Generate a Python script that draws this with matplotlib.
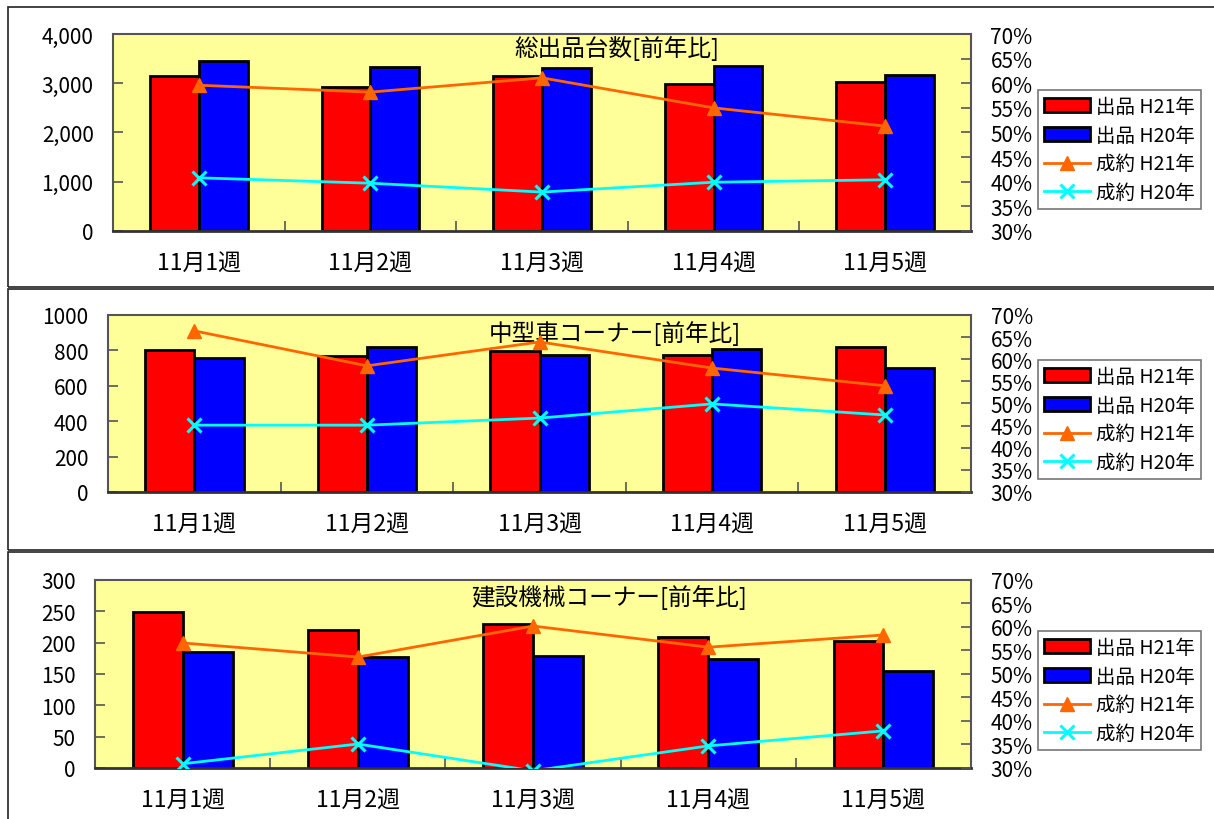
import numpy as np
import matplotlib
matplotlib.use('Agg')
import matplotlib.pyplot as plt
from matplotlib.patches import Rectangle, Patch
from matplotlib.lines import Line2D
from matplotlib.ticker import FuncFormatter, MultipleLocator

plt.rcParams['font.family'] = ['Noto Sans CJK JP', 'DejaVu Sans']

weeks = ['11月1週', '11月2週', '11月3週', '11月4週', '11月5週']

# 総出品台数
total_h21 = [3150, 2925, 3150, 2985, 3025]
total_h20 = [3450, 3330, 3310, 3350, 3170]
total_rate_h21 = [59.6, 58.2, 61.1, 55.0, 51.3]
total_rate_h20 = [40.8, 39.7, 37.9, 39.9, 40.4]

# 中型車コーナー
mid_h21 = [800, 768, 797, 774, 819]
mid_h20 = [757, 819, 774, 808, 701]
mid_rate_h21 = [66.4, 58.5, 63.9, 58.0, 54.0]
mid_rate_h20 = [45.1, 45.1, 46.7, 49.9, 47.4]

# 建設機械コーナー
con_h21 = [249, 220, 230, 209, 203]
con_h20 = [185, 177, 179, 174, 155]
con_rate_h21 = [56.6, 53.6, 60.2, 55.7, 58.3]
con_rate_h20 = [30.9, 35.1, 29.4, 34.7, 37.9]

panels = [
    dict(title='総出品台数[前年比]', h21=total_h21, h20=total_h20,
         r21=total_rate_h21, r20=total_rate_h20, ymax=4000, step=1000, comma=True,
         rect=[0.0931, 0.7171, 0.7067, 0.2402], leg_y=0.889, title_y=0.93),
    dict(title='中型車コーナー[前年比]', h21=mid_h21, h20=mid_h20,
         r21=mid_rate_h21, r20=mid_rate_h20, ymax=1000, step=200, comma=False,
         rect=[0.0890, 0.3988, 0.7109, 0.2159], leg_y=0.5598, title_y=0.90),
    dict(title='建設機械コーナー[前年比]', h21=con_h21, h20=con_h20,
         r21=con_rate_h21, r20=con_rate_h20, ymax=300, step=50, comma=False,
         rect=[0.0783, 0.0622, 0.7216, 0.2293], leg_y=0.2293, title_y=0.91),
]

fig = plt.figure(figsize=(12.14, 8.2), dpi=100)

# panel frames
for (y0, y1) in [(8, 288), (290, 551), (553, 830)]:
    fig.patches.append(Rectangle((8 / 1214, 1 - y1 / 820), 1.2, (y1 - y0) / 820,
                                 transform=fig.transFigure, fill=False,
                                 edgecolor='#222222', linewidth=1.2))

x = np.arange(len(weeks))
w = 0.285
spine_col = '#555555'

for p in panels:
    ax = fig.add_axes(p['rect'])
    ax.set_facecolor('#FFFF99')
    ax.bar(x - w / 2, p['h21'], w, color='#FF0000', edgecolor='black', linewidth=2, zorder=2)
    ax.bar(x + w / 2, p['h20'], w, color='#0000FF', edgecolor='black', linewidth=2, zorder=2)
    ax.set_xlim(-0.5, len(weeks) - 0.5)
    ax.set_ylim(0, p['ymax'])
    ax.yaxis.set_major_locator(MultipleLocator(p['step']))
    if p['comma']:
        ax.yaxis.set_major_formatter(FuncFormatter(lambda v, pos: f'{int(v):,}'))
    ax.set_xticks(x)
    ax.set_xticklabels(weeks)
    ax.set_xticks(np.arange(0.5, len(weeks) - 0.5, 1), minor=True)
    ax.tick_params(axis='x', which='major', length=0, pad=15, labelsize=16.5)
    ax.tick_params(axis='x', which='minor', direction='in', length=7, width=1.2, color=spine_col)
    ax.tick_params(axis='y', direction='in', length=7, width=1.2, color=spine_col,
                   pad=14, labelsize=15)
    for s in ax.spines.values():
        s.set_color(spine_col)
        s.set_linewidth(1.5)
    ax.spines['bottom'].set_color('#333333')
    ax.spines['bottom'].set_linewidth(2)

    ax2 = ax.twinx()
    ax2.set_ylim(30, 70)
    ax2.yaxis.set_major_locator(MultipleLocator(5))
    ax2.yaxis.set_major_formatter(FuncFormatter(lambda v, pos: f'{int(round(v))}%'))
    ax2.tick_params(axis='y', direction='in', length=7, width=1.2, color=spine_col,
                    pad=14, labelsize=15)
    for s in ax2.spines.values():
        s.set_visible(False)
    ax2.plot(x, p['r21'], color='#FF6600', linewidth=2, marker='^', markersize=10,
             markerfacecolor='#FF6600', markeredgecolor='#FF6600')
    ax2.plot(x, p['r20'], color='#00FFFF', linewidth=2, marker='x', markersize=10,
             markeredgewidth=2.2, markeredgecolor='#00FFFF')

    ax.text(0.587, p['title_y'], p['title'], transform=ax.transAxes, ha='center',
            va='center', fontsize=17, zorder=5)

    handles = [Patch(facecolor='#FF0000', edgecolor='black', linewidth=2),
               Patch(facecolor='#0000FF', edgecolor='black', linewidth=2),
               Line2D([], [], color='#FF6600', linewidth=2, marker='^', markersize=10),
               Line2D([], [], color='#00FFFF', linewidth=2, marker='x', markersize=10,
                      markeredgewidth=2.2)]
    labels = ['出品 H21年', '出品 H20年', '成約 H21年', '成約 H20年']
    leg = fig.legend(handles, labels, loc='upper left', bbox_to_anchor=(0.855, p['leg_y']),
                     fontsize=14, frameon=True, fancybox=False, borderpad=0.3,
                     labelspacing=0.4, handlelength=2.4, handletextpad=0.3,
                     borderaxespad=0)
    leg.get_frame().set_edgecolor('#555555')
    leg.get_frame().set_linewidth(1.2)

fig.savefig('out.png', dpi=100)
